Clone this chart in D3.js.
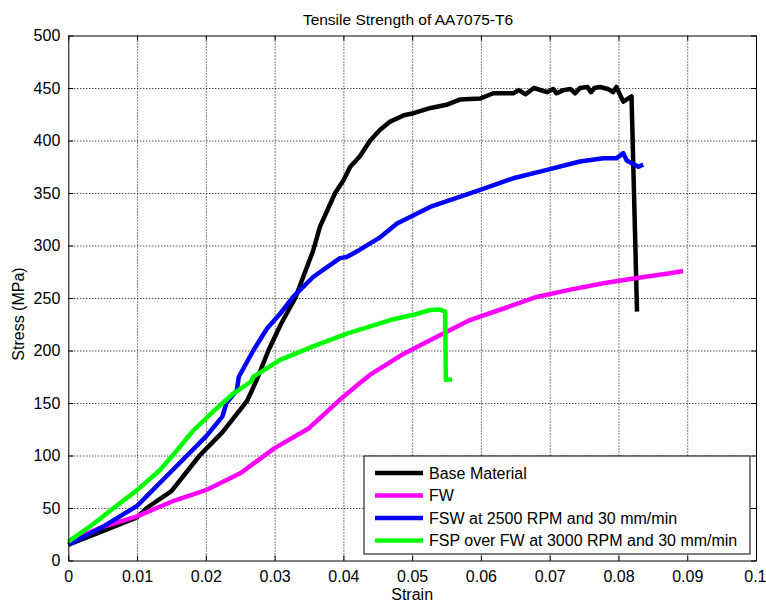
<!DOCTYPE html>
<html>
<head>
<meta charset="utf-8">
<script src="https://cdn.jsdelivr.net/npm/d3@7"></script>
<style>
  body { margin: 0; background: #fff; }
  svg text { font-family: "Liberation Sans", Arial, sans-serif; fill: #000; }
  .grid line { stroke: #000; stroke-dasharray: 1,2; stroke-width: 1; }
  .grid path { display: none; }
  .axis path, .axis line { stroke: #000; }
</style>
</head>
<body>
<div id="vis"></div>
<script>
// strain / stress pairs
var baseMaterial = [[0,15],[0.005,28],[0.01,41],[0.0114,50],[0.015,66],[0.0191,100],[0.0224,122],[0.026,152],[0.0274,172],[0.0291,200],[0.0309,225],[0.033,250],[0.0356,295],[0.0366,318],[0.0388,350],[0.04,362],[0.041,375],[0.0424,385],[0.0439,400],[0.0453,410],[0.0468,418],[0.0488,424],[0.0502,426],[0.0527,431],[0.055,434],[0.0569,439],[0.0599,440],[0.0618,445],[0.0647,445],[0.0655,448],[0.0665,444],[0.0677,450],[0.0696,446],[0.0705,449],[0.071,445],[0.072,448],[0.073,449],[0.0737,445],[0.0744,450],[0.0755,451],[0.076,446],[0.0765,450],[0.0773,451],[0.0785,449],[0.0792,446],[0.0797,451],[0.0807,437],[0.0819,442],[0.0827,237]];
var fw = [[0,18],[0.005,32],[0.01,42],[0.015,56],[0.02,67],[0.025,83],[0.03,107],[0.035,126],[0.0375,141],[0.04,156],[0.0424,169],[0.0439,177],[0.0488,197],[0.0536,213],[0.0584,229],[0.0633,240],[0.0681,251],[0.073,258],[0.0778,264],[0.0827,269],[0.0875,273.5],[0.0894,275.7]];
var fsw = [[0,15],[0.005,32],[0.01,52],[0.015,85],[0.02,118],[0.0224,137],[0.023,150],[0.0245,162],[0.0248,175],[0.0269,200],[0.0289,221],[0.0308,235],[0.0327,251],[0.0356,270],[0.0395,288],[0.0405,289],[0.0424,296],[0.0454,308],[0.0478,321],[0.0527,337],[0.0599,353],[0.0647,364],[0.0696,372],[0.0744,380],[0.0778,383],[0.0797,383],[0.0807,388],[0.0812,381],[0.0829,375],[0.0836,377]];
var fsp = [[0,18],[0.0037,35],[0.0066,50],[0.01,67],[0.0133,86],[0.0157,104],[0.0182,124],[0.0211,142],[0.024,159],[0.0265,170],[0.0269,175],[0.0308,191],[0.0356,204],[0.0405,216],[0.0439,223],[0.0468,229],[0.0502,234],[0.0526,238.6],[0.054,239],[0.0548,237],[0.0549,172],[0.0558,172.5]];

var seriesNames = ["Base Material", "FW", "FSW at 2500 RPM and 30 mm/min", "FSP over FW at 3000 RPM and 30 mm/min"];
var seriesColors = ["#000000", "#ff00ff", "#0000ff", "#00ff00"];
var xTicks = [0, 0.01, 0.02, 0.03, 0.04, 0.05, 0.06, 0.07, 0.08, 0.09, 0.1];
var yTicks = [0, 50, 100, 150, 200, 250, 300, 350, 400, 450, 500];

var series = [baseMaterial, fw, fsw, fsp];

var margin = {top: 35.5, right: 10, bottom: 45.5, left: 68.3};
var width = 756 - margin.left,
    height = 560.5 - margin.top;

var svg = d3.select("div#vis")
  .append("svg")
  .attr("width", 766)
  .attr("height", 606);

var g = svg.append("g")
  .attr("transform", "translate(" + margin.left + "," + margin.top + ")");

var x = d3.scaleLinear().domain([0, 0.1]).range([0, width]);
var y = d3.scaleLinear().domain([0, 500]).range([height, 0]);

// dotted grid
g.append("g")
  .attr("class", "grid")
  .attr("transform", "translate(0," + height + ")")
  .call(d3.axisBottom(x).tickValues(xTicks.slice(1, -1)).tickSize(-height).tickFormat(""));

g.append("g")
  .attr("class", "grid")
  .call(d3.axisLeft(y).tickValues(yTicks.slice(1, -1)).tickSize(-width).tickFormat(""));

// lines
var line = d3.line()
  .x(function(d) { return x(d[0]); })
  .y(function(d) { return y(d[1]); });

g.append("g")
  .selectAll("path")
  .data(series)
  .enter().append("path")
  .attr("fill", "none")
  .attr("stroke", function(d, i) { return seriesColors[i]; })
  .attr("stroke-width", 4.5)
  .attr("stroke-linejoin", "round")
  .attr("d", line);

// axes with inward ticks on all sides
var xAxis = g.append("g")
  .attr("class", "axis")
  .attr("transform", "translate(0," + height + ")")
  .call(d3.axisBottom(x).tickValues(xTicks).tickSize(-5).tickSizeOuter(0).tickPadding(10)
    .tickFormat(function(d) { return d3.format("")(+d.toFixed(2)); }))
  .attr("font-size", 16);

// keep the last label inside the window
xAxis.selectAll(".tick:last-of-type text").attr("text-anchor", "end").attr("x", 10);

g.append("g")
  .attr("class", "axis")
  .call(d3.axisLeft(y).tickValues(yTicks).tickSize(-5).tickSizeOuter(0).tickPadding(8))
  .attr("font-size", 16);

g.append("g")
  .attr("class", "axis")
  .call(d3.axisTop(x).tickValues(xTicks).tickSize(-5).tickSizeOuter(0).tickFormat(""));

g.append("g")
  .attr("class", "axis")
  .attr("transform", "translate(" + width + ",0)")
  .call(d3.axisRight(y).tickValues(yTicks).tickSize(-5).tickSizeOuter(0).tickFormat(""));

g.selectAll(".axis text").attr("fill", "#000");

// titles
svg.append("text")
  .attr("x", 408)
  .attr("y", 25)
  .attr("text-anchor", "middle")
  .attr("font-size", 15.5)
  .text("Tensile Strength of AA7075-T6");

svg.append("text")
  .attr("x", margin.left + width / 2)
  .attr("y", 600)
  .attr("text-anchor", "middle")
  .attr("font-size", 16)
  .text("Strain");

svg.append("text")
  .attr("transform", "translate(24,314) rotate(-90)")
  .attr("text-anchor", "middle")
  .attr("font-size", 16)
  .text("Stress (MPa)");

// legend
var legend = svg.append("g")
  .attr("transform", "translate(364,456)");

legend.append("rect")
  .attr("width", 386)
  .attr("height", 98)
  .attr("fill", "#fff")
  .attr("stroke", "#000");

var item = legend.selectAll("g")
  .data(seriesNames)
  .enter().append("g")
  .attr("transform", function(d, i) { return "translate(0," + (17 + i * 22.5) + ")"; });

item.append("line")
  .attr("x1", 11)
  .attr("x2", 59)
  .attr("stroke", function(d, i) { return seriesColors[i]; })
  .attr("stroke-width", 4.5);

item.append("text")
  .attr("x", 65)
  .attr("dy", "0.35em")
  .attr("font-size", 16)
  .text(function(d) { return d; });
</script>
</body>
</html>
